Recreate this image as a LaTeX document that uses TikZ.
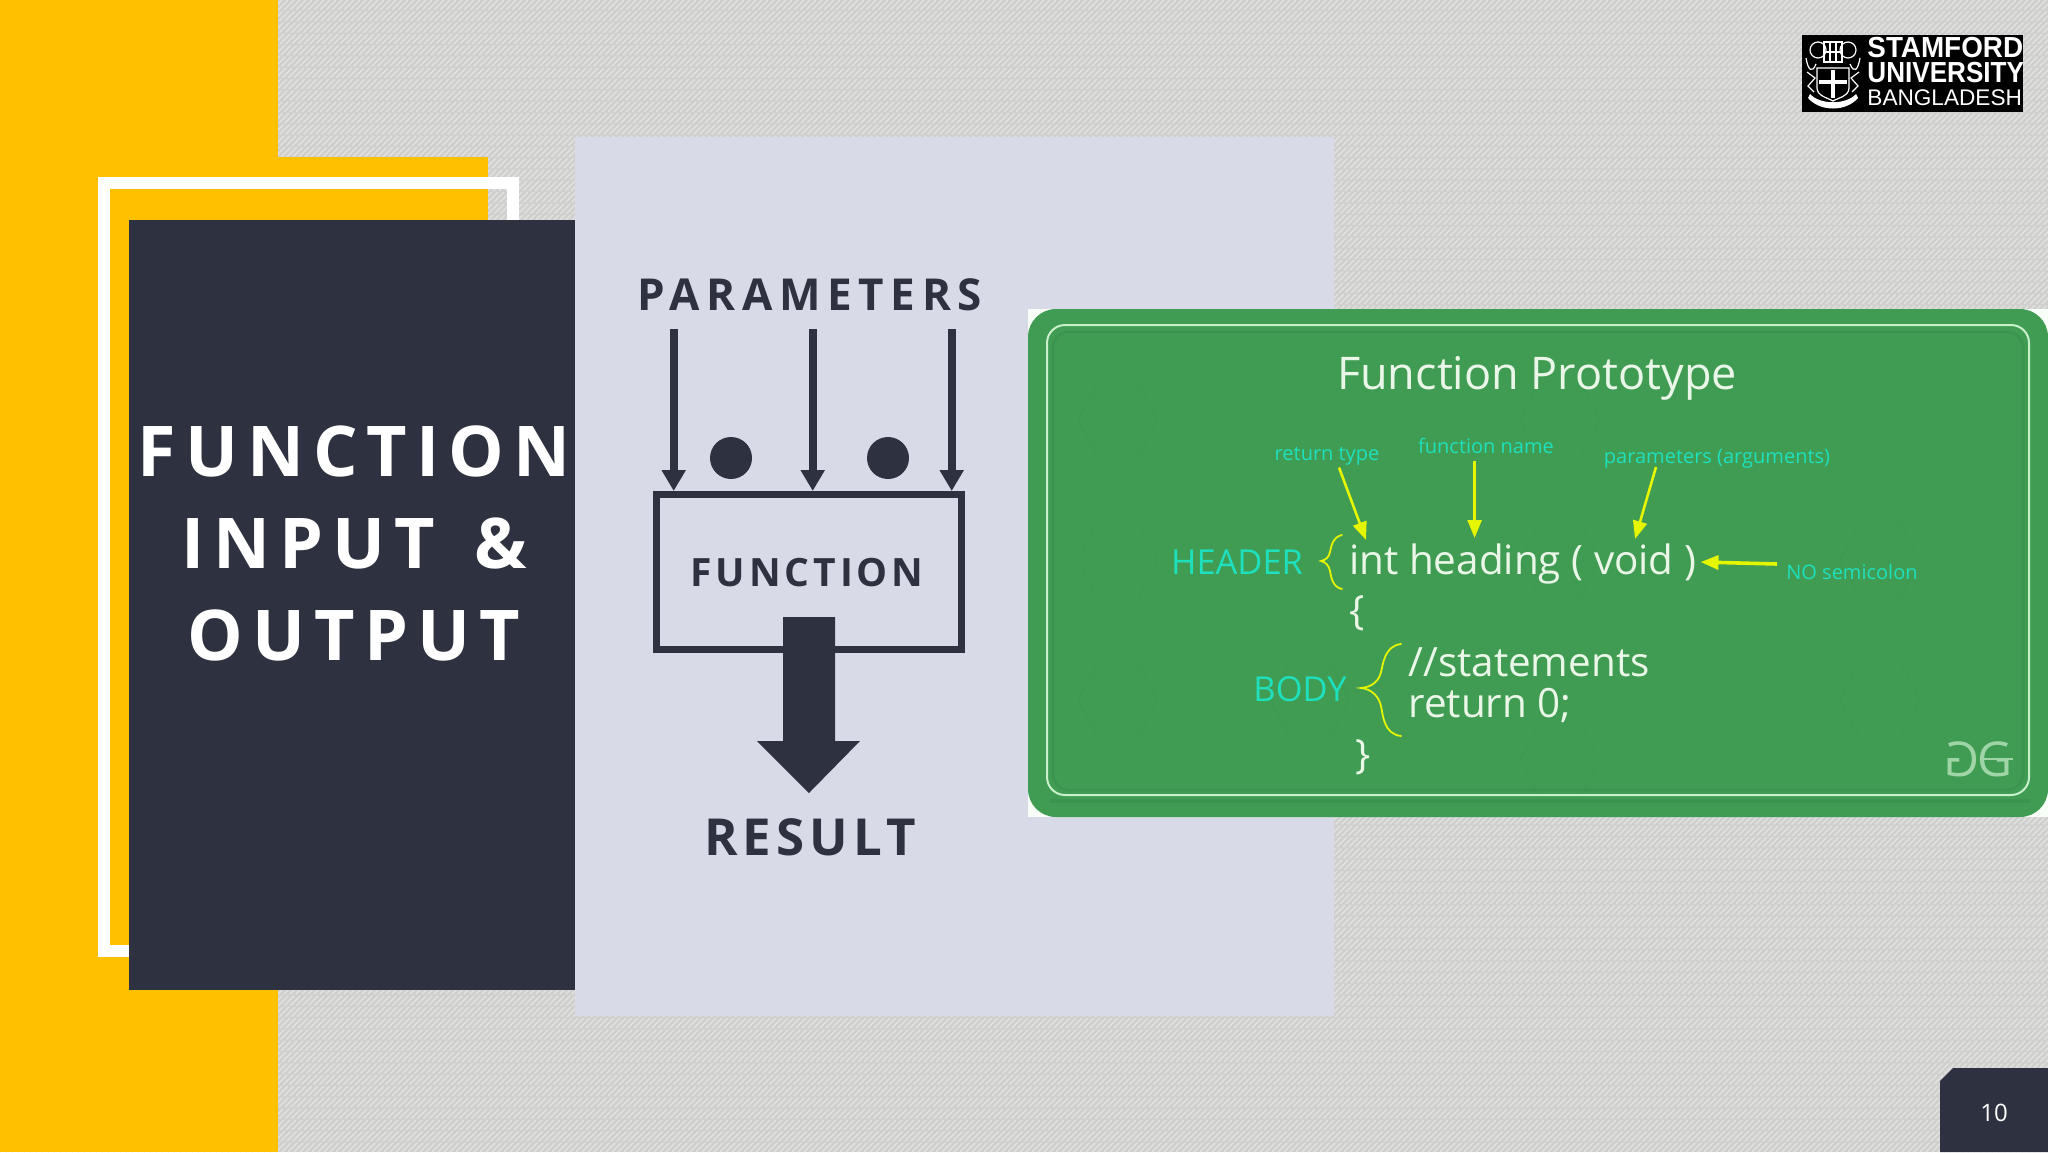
\documentclass[tikz,border=0pt]{standalone}
\usepackage{fontspec}
\setmainfont{Open Sans}
\newfontfamily\titlef[LetterSpace=13]{Open Sans Bold}
\newfontfamily\labelf[LetterSpace=15]{Open Sans Bold}
\newfontfamily\labelg[LetterSpace=10]{Open Sans Bold}
\newfontfamily\plainf{Open Sans}
\newfontfamily\logof{Liberation Sans}
\usetikzlibrary{arrows.meta,calc}
\definecolor{ink}{HTML}{2E3240}
\definecolor{gold}{HTML}{FFC000}
\definecolor{panel}{HTML}{D8DBE7}
\definecolor{paper}{HTML}{CFD0CE}
\definecolor{hatch}{HTML}{E4E4E2}
\definecolor{leaf}{HTML}{409C53}
\definecolor{leafd}{HTML}{37904A}
\definecolor{frame}{HTML}{C9EFCB}
\definecolor{aqua}{HTML}{1EE0BE}
\definecolor{lime}{HTML}{E6F500}
\definecolor{codew}{HTML}{EAF7E8}
\tikzset{
  x=0.5pt,y=-0.5pt,
  inarrow/.style={draw=ink,line width=4pt,-{Triangle[width=11.5pt,length=10.5pt]},shorten >=0pt},
  dot/.style={ink,fill=ink},
  diag/.style={inner sep=0pt},
  code/.style={font=\plainf\fontsize{20.2}{20.5}\selectfont,text=codew,inner sep=0pt,anchor=west},
  tag/.style={font=\plainf\fontsize{10}{12}\selectfont,text=aqua,inner sep=0pt},
  biglab/.style={font=\plainf\fontsize{17.2}{20}\selectfont,text=aqua,inner sep=0pt},
  yarrow/.style={draw=lime,line width=1.3pt,-{Triangle[width=7pt,length=9pt]}},
  ybrace/.style={draw=lime,line width=0.9pt,line cap=round},
  crest/.style={draw=white,line width=0.6pt},
}
\begin{document}
\begin{tikzpicture}
\useasboundingbox (0,0) rectangle (2048,1152);
% textured page
\fill[paper] (0,0) rectangle (2048,1152);
\begin{scope}
\clip (0,0) rectangle (2048,1152);
\foreach \k in {0,6,...,3220}{
  \draw[hatch,line width=0.6pt,dash pattern=on 7pt off 1pt] (\k,0) -- ++(-1152,1152);
}
\end{scope}
% left band and title card
\fill[gold] (0,0) rectangle (278,1152);
\fill[gold] (278,157) rectangle (488,220);
\fill[gold] (129,189) rectangle (278,990);
\draw[white,line width=6pt] (129,951) -- (104,951) -- (104,183) -- (513,183) -- (513,220);
\fill[panel] (575,137) rectangle (1334,1016);
\node[fill=ink,minimum width=223pt,minimum height=385pt,anchor=north west,inner sep=0pt] (card) at (129,220) {};
\node[align=center,text=white,inner sep=0pt,font=\titlef\fontsize{35}{46}\selectfont] (title) at (354,543) {FUNCTION\\INPUT\hspace{6pt} \&\\OUTPUT};
% function diagram
\node[diag,font=\labelf\fontsize{22}{26}\selectfont,text=ink] (params) at (810,295) {PARAMETERS};
\node[draw=ink,line width=3.5pt,minimum width=152.5pt,minimum height=77.5pt,inner sep=0pt,anchor=north west] (box) at (652.7,491) {};
\node[diag,font=\labelg\fontsize{19.5}{24}\selectfont,text=ink] (fname) at (807,573) {FUNCTION};
\coordinate (p1) at (673.7,329);
\coordinate (p2) at (812.7,329);
\coordinate (p3) at (951.7,329);
\draw[inarrow] (p1) -- (p1|-box.north);
\draw[inarrow] (p2) -- (p2|-box.north);
\draw[inarrow] (p3) -- (p3|-box.north);
\fill[dot] (731,458) circle[radius=10.5pt];
\fill[dot] (888,458) circle[radius=10.5pt];
\fill[ink] (783,617) -- (835,617) -- (835,741) -- (860,741) -- (809,793) -- (757,741) -- (783,741) -- cycle;
\node[diag,font=\labelg\fontsize{25.5}{30}\selectfont,text=ink] (result) at (810,837) {RESULT};
% green picture
\fill[white!85!frame] (1028,309) rectangle (2048,817);
\fill[leaf,rounded corners=14pt] (1028,309) -- (2048,309) -- (2048,817) -- (1028,817) -- cycle;
\begin{scope}
\clip[rounded corners=14pt] (1028,309) -- (2048,309) -- (2048,817) -- (1028,817) -- cycle;
\foreach \a/\b in {1118/420,1118/560,1118/700,1560/420,1560/560,1880/560,1880/700,1310/700,1560/760}{
  \draw[leafd,line width=0.4pt,opacity=0.25] (\a-40,\b) -- (\a-20,\b-38) -- (\a+20,\b-38) -- (\a+40,\b) -- (\a+20,\b+38) -- (\a-20,\b+38) -- cycle;
}
\draw[leafd,line width=2pt,opacity=0.6] (1050,801) -- (2030,801);
\draw[leafd,line width=1.5pt,opacity=0.5,rounded corners=8pt] (1053,332) -- (2023,332) -- (2023,790) -- (1053,790) -- cycle;
\end{scope}
\draw[frame,line width=1pt,rounded corners=9pt] (1047,325) -- (2029,325) -- (2029,795) -- (1047,795) -- cycle;
\node[font=\plainf\fontsize{22.5}{27}\selectfont,text=codew,inner sep=0pt] (ftitle) at (1537,378) {Function Prototype};
\node[tag] (rt) at (1327,456) {return type};
\node[tag] (fn) at (1486,446) {function name};
\node[tag] (pa) at (1717,459) {parameters (arguments)};
\node[tag] (ns) at (1852,572) {NO semicolon};
\node[biglab] (hdr) at (1237,562) {HEADER};
\node[biglab] (bdy) at (1300,689) {BODY};
\node[code] (sig) at (1349,564) {int heading ( void )};
\node[code] (op) at (1349,613) {\{};
\node[code,align=left] (st) at (1408,685) {//statements\\return 0;};
\node[code] (cl) at (1355,757) {\}};
\coordinate (a1) at (1366,540);
\coordinate (a2) at (1474.6,538);
\coordinate (a3) at (1635,539);
\coordinate (a4) at (1700.5,562);
\draw[yarrow] (1339,467.5) coordinate (rtend) -- (a1);
\draw[yarrow] (1474.6,460.7) coordinate (fnend) -- (a2);
\draw[yarrow] (1656,467) coordinate (paend) -- (a3);
\draw[yarrow,line width=1.8pt] (1777,564) coordinate (nsend) -- (a4);
\draw[ybrace] (1342,535) .. controls (1332,537) and (1331,548) .. (1330,552) .. controls (1329,557) and (1326,560) .. (1321,561) .. controls (1326,562) and (1329,566) .. (1330,571) .. controls (1331,576) and (1332,587) .. (1342,589);
\draw[ybrace] (1401,644) .. controls (1384,646) and (1383,665) .. (1381,672) .. controls (1379,681) and (1372,687) .. (1361,688) .. controls (1372,689) and (1379,697) .. (1381,706) .. controls (1383,716) and (1384,734) .. (1401,736);
% watermark
\node[inner sep=0pt,text=frame!70!leaf,font=\plainf\fontsize{24}{24}\selectfont,xscale=-1] (gl) at (1962,759) {G};
\node[inner sep=0pt,text=frame!70!leaf,font=\plainf\fontsize{24}{24}\selectfont] (gr) at (1995,759) {G};
\draw[frame!70!leaf,line width=0.9pt] (gl.west|-gl.center) -- (gr.east|-gr.center);
% logo
\fill[black] (1802,35) rectangle (2023,112);
\node[inner sep=0pt,anchor=west,text=white] (l1) at (1867,48) {\scalebox{0.96}[1]{\logof\bfseries\fontsize{14.5}{15}\selectfont STAMFORD}};
\node[inner sep=0pt,anchor=west,text=white] (l2) at (1867,73) {\scalebox{0.9}[1]{\logof\bfseries\fontsize{14.5}{15}\selectfont UNIVERSITY}};
\node[inner sep=0pt,anchor=west,text=white] (l3) at (1867,98) {\logof\fontsize{11.3}{12}\selectfont BANGLADESH};
\draw[crest] (1817,68) -- (1849,68) -- (1849,88) .. controls (1849,96) and (1838,98) .. (1833,101) .. controls (1828,98) and (1817,96) .. (1817,88) -- cycle;
\draw[crest,line width=1.6pt] (1833,70) -- (1833,98) (1819,82) -- (1847,82);
\draw[crest] (1824,42) rectangle (1842,62);
\draw[crest] (1830,42) -- (1830,62) (1836,42) -- (1836,62) (1824,52) -- (1842,52);
\draw[crest] (1818,50) circle[radius=4pt];
\draw[crest] (1848,50) circle[radius=4pt];
\draw[crest] (1806,58) .. controls (1808,70) and (1812,74) .. (1816,64);
\draw[crest] (1860,58) .. controls (1858,70) and (1854,74) .. (1850,64);
\draw[crest] (1807,72) -- (1815,78) -- (1808,86) -- (1814,92);
\draw[crest] (1859,72) -- (1851,78) -- (1858,86) -- (1852,92);
\fill[white] (1808,98) .. controls (1820,112) and (1846,112) .. (1858,98) -- (1856,94) .. controls (1846,105) and (1820,105) .. (1810,94) -- cycle;
% page number
\fill[ink] (1940,1152) -- (1940,1081) -- (1953,1068) -- (2048,1068) -- (2048,1152) -- cycle;
\node[text=white,inner sep=0pt,font=\plainf\fontsize{12}{14}\selectfont] (pg) at (1994,1113) {10};
\end{tikzpicture}
\end{document}
